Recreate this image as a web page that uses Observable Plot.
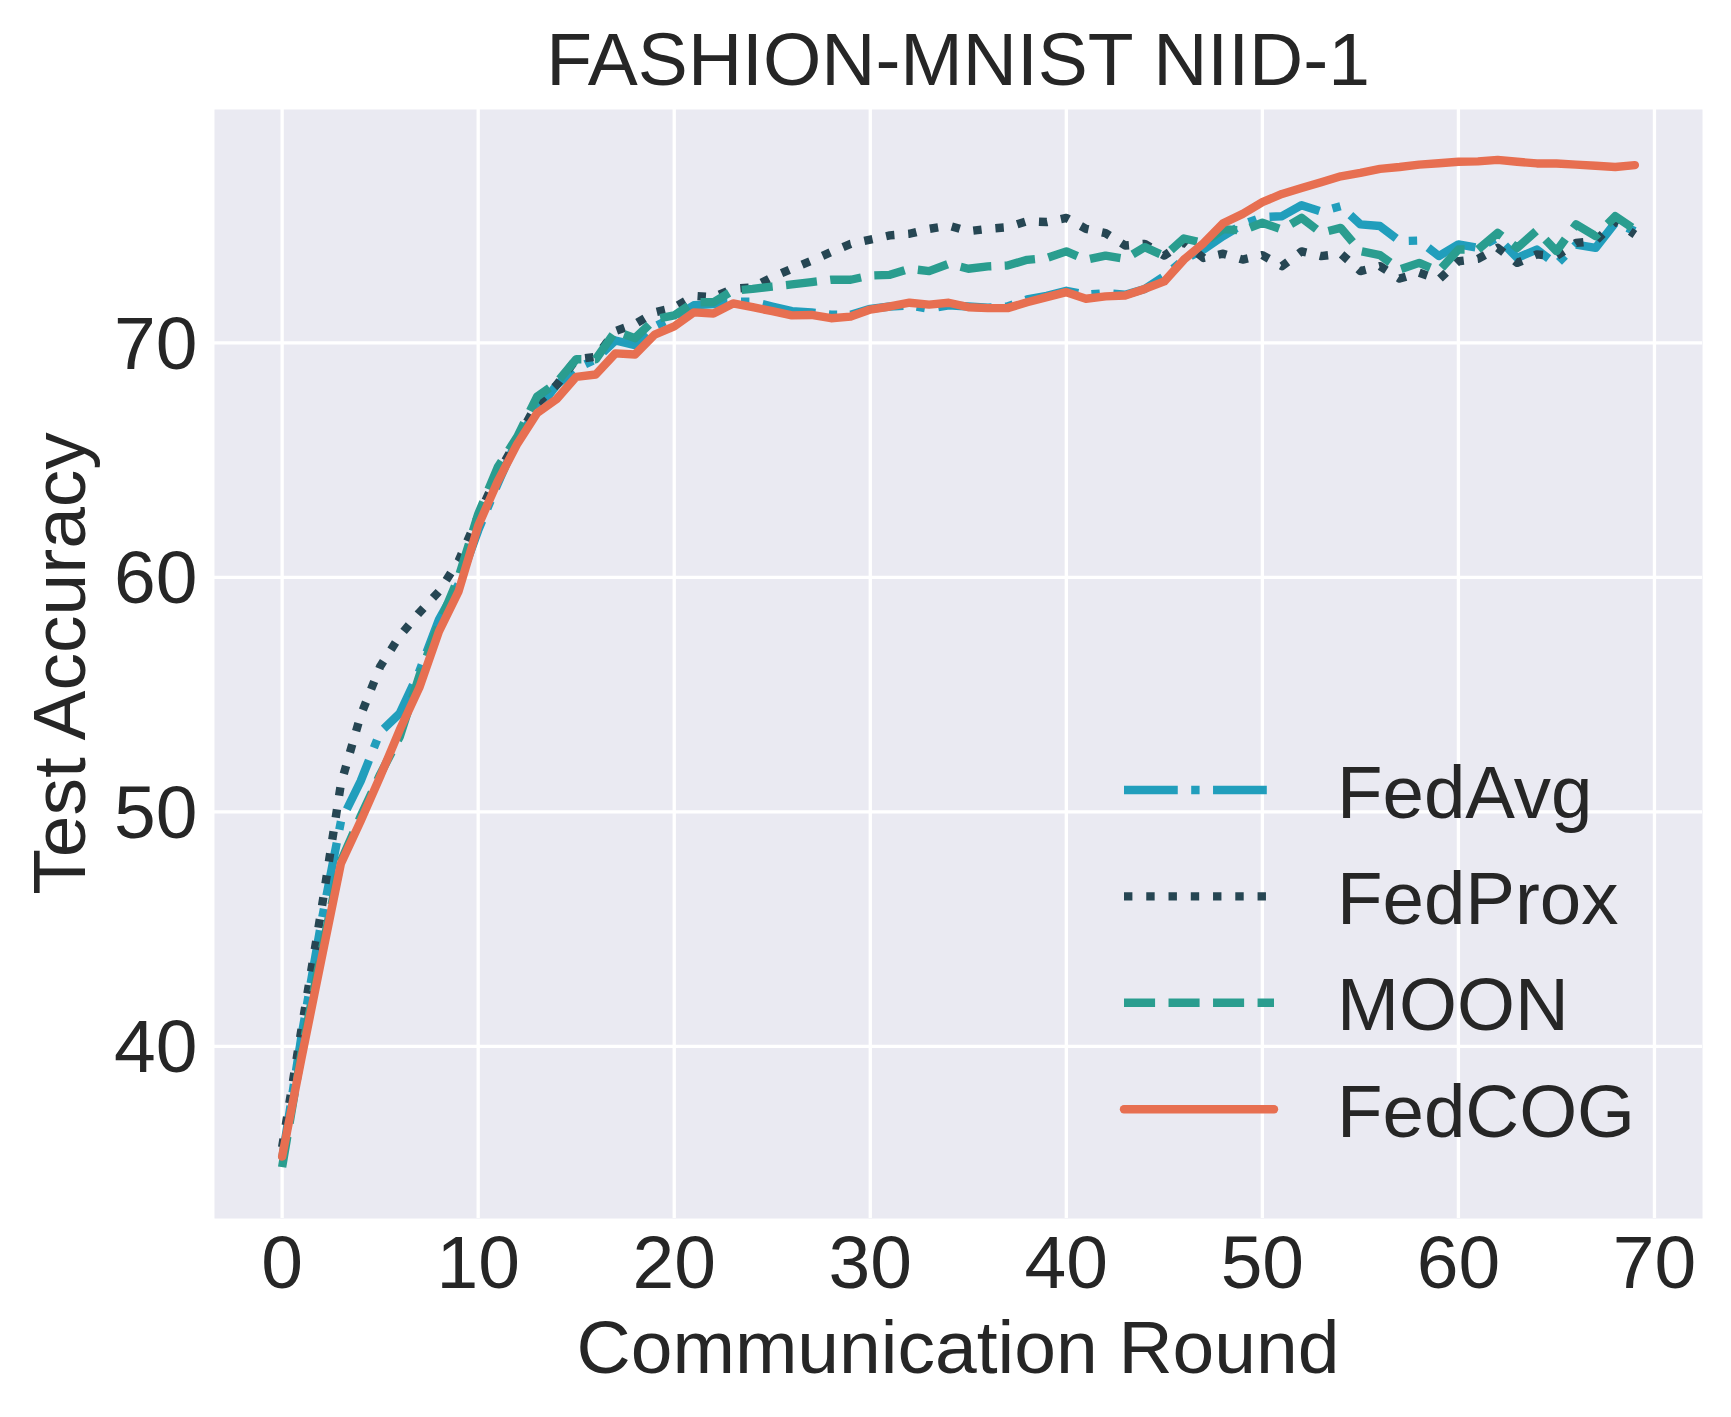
<!DOCTYPE html>
<html><head><meta charset="utf-8">
<script src="https://cdn.jsdelivr.net/npm/d3@7"></script>
<script src="https://cdn.jsdelivr.net/npm/@observablehq/plot@0.6"></script>
<style>body{margin:0;background:#fff} svg{display:block}</style>
</head><body><div id="chart"></div>
<script>
const rounds = d3.range(70);
const xTicks = [0, 10, 20, 30, 40, 50, 60, 70];
const yTicks = [40, 50, 60, 70];
const titleText = "FASHION-MNIST NIID-1";
const xLabel = "Communication Round";
const yLabel = "Test Accuracy";
const methods = ["FedAvg", "FedProx", "MOON", "FedCOG"];

const fedAvg = [35.2,40.5,45.3,49.6,51.3,53.4,54.2,56.0,58.2,59.7,
  62.0,64.0,65.9,67.1,68.2,68.9,69.3,70.1,69.9,70.7,
  71.1,71.6,71.65,71.75,71.75,71.55,71.35,71.3,71.2,71.2,
  71.45,71.55,71.6,71.45,71.6,71.55,71.5,71.55,71.85,72.0,
  72.22,72.05,72.12,72.05,72.3,72.85,73.55,73.98,74.55,75.05,
  75.36,75.4,75.87,75.6,75.83,75.05,74.98,74.34,74.36,73.7,
  74.2,74.05,74.48,73.62,73.98,73.34,74.19,74.05,75.12,74.76];
const fedProx = [35.7,40.8,45.8,51.2,54.1,56.2,57.5,58.5,59.4,60.7,
  62.6,64.4,65.9,67.4,68.2,69.3,69.4,70.5,70.8,71.3,
  71.5,72.0,71.95,72.3,72.37,72.8,73.16,73.5,73.87,74.22,
  74.4,74.58,74.65,74.86,75.0,74.76,74.86,74.93,75.19,75.15,
  75.33,74.86,74.68,74.15,74.22,73.72,74.3,73.62,73.8,73.55,
  73.74,73.27,73.9,73.7,73.8,73.06,73.27,72.74,72.99,72.7,
  73.48,73.58,74.05,73.41,73.77,73.7,74.26,74.34,75.19,74.62];
const moon = [34.85,39.8,44.0,47.9,49.8,51.6,53.2,55.8,58.0,60.0,
  62.7,64.7,66.0,67.7,68.3,69.3,69.3,70.5,70.2,71.0,
  71.17,71.73,71.73,72.23,72.3,72.4,72.49,72.59,72.69,72.69,
  72.87,72.9,73.16,73.06,73.37,73.16,73.26,73.3,73.54,73.62,
  73.9,73.54,73.72,73.58,74.08,73.7,74.45,74.26,74.85,74.79,
  75.12,74.83,75.33,74.69,74.9,73.91,73.74,73.13,73.41,73.06,
  73.98,73.98,74.69,74.05,74.79,73.91,75.05,74.55,75.4,74.83];
const fedCog = [35.3,39.55,43.7,47.8,49.6,51.5,53.5,55.3,57.7,59.4,
  62.2,64.1,65.7,67.0,67.6,68.55,68.65,69.55,69.5,70.35,
  70.7,71.3,71.25,71.68,71.52,71.35,71.17,71.19,71.05,71.12,
  71.42,71.55,71.71,71.63,71.71,71.52,71.48,71.48,71.73,71.95,
  72.16,71.88,71.98,72.02,72.3,72.62,73.55,74.25,75.1,75.5,
  76.0,76.35,76.6,76.85,77.1,77.25,77.42,77.5,77.6,77.66,
  77.72,77.74,77.8,77.72,77.65,77.65,77.6,77.55,77.5,77.58];

const LW = 8.4;
const styles = {
  FedAvg:  {color: "#219ebc", dash: `${6.4*LW},${1.6*LW},${1*LW},${1.6*LW}`, cap: "butt"},
  FedProx: {color: "#264653", dash: `${1*LW},${1.65*LW}`, cap: "butt"},
  MOON:    {color: "#2a9d8f", dash: `${3.7*LW},${1.6*LW}`, cap: "butt"},
  FedCOG:  {color: "#e76f51", dash: null, cap: "round"}
};
const valuesBy = {FedAvg: fedAvg, FedProx: fedProx, MOON: moon, FedCOG: fedCog};
const data = methods.flatMap(m => valuesBy[m].map((v, i) => ({round: rounds[i], acc: v, method: m})));

const FONT = "'Liberation Sans', Arial, sans-serif";
const INK = "#262626";
const FS = 75;
const W = 1731, H = 1417;
const mL = 214, mR = 29, mT = 109, mB = 199;

const plot = Plot.plot({
  width: W, height: H,
  marginLeft: mL, marginRight: mR, marginTop: mT, marginBottom: mB,
  style: {fontFamily: FONT, color: INK, background: "white", overflow: "visible"},
  x: {domain: [-3.45, 72.45]},
  y: {domain: [32.66, 79.95]},
  marks: [
    Plot.frame({fill: "#EAEAF2", stroke: null}),
    Plot.gridX(xTicks, {stroke: "white", strokeOpacity: 1, strokeWidth: 3.3}),
    Plot.gridY(yTicks, {stroke: "white", strokeOpacity: 1, strokeWidth: 3.3}),
    Plot.axisX(xTicks, {tickSize: 0, tickPadding: 16, fontSize: FS, label: null, fill: INK}),
    Plot.axisY(yTicks, {tickSize: 0, tickPadding: 17, fontSize: FS, label: null, fill: INK, dy: 2}),
    ...methods.map(m => Plot.line(data.filter(d => d.method === m), {
      x: "round", y: "acc",
      stroke: styles[m].color, strokeWidth: LW,
      strokeDasharray: styles[m].dash || undefined,
      strokeLinecap: styles[m].cap, strokeLinejoin: "round"
    }))
  ]
});

const svg = d3.select(plot);
const cx = (mL + (W - mR)) / 2;
const cy = (mT + (H - mB)) / 2;

svg.append("text").attr("x", cx).attr("y", 85).attr("text-anchor", "middle")
  .attr("font-family", FONT).attr("font-size", FS).attr("fill", INK).text(titleText);
svg.append("text").attr("x", cx).attr("y", 1373).attr("text-anchor", "middle")
  .attr("font-family", FONT).attr("font-size", FS).attr("fill", INK).text(xLabel);
svg.append("text").attr("transform", `translate(85,${cy}) rotate(-90)`).attr("text-anchor", "middle")
  .attr("font-family", FONT).attr("font-size", FS).attr("fill", INK).text(yLabel);

// legend (no frame)
const lg = svg.append("g");
methods.forEach((m, i) => {
  const y = 790 + i * 106.4;
  const ln = lg.append("line").attr("x1", 1124).attr("x2", 1274).attr("y1", y).attr("y2", y)
    .attr("stroke", styles[m].color).attr("stroke-width", LW)
    .attr("stroke-linecap", styles[m].cap);
  if (styles[m].dash) ln.attr("stroke-dasharray", styles[m].dash);
  lg.append("text").attr("x", 1337).attr("y", y + 27.5).attr("text-anchor", "start")
    .attr("font-family", FONT).attr("font-size", 74.5).attr("fill", INK).text(m);
});

document.getElementById("chart").appendChild(plot);
</script>
</body></html>
